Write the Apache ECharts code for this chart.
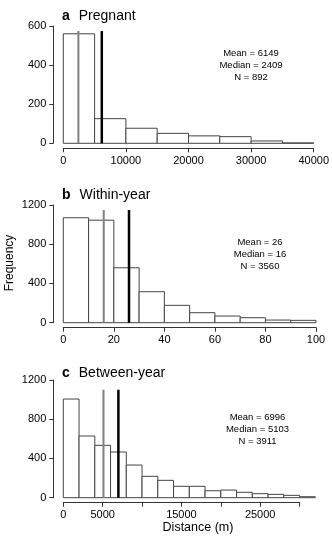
<!DOCTYPE html>
<html>
<head>
<meta charset="utf-8">
<script src="https://cdn.jsdelivr.net/npm/echarts@6/dist/echarts.min.js"></script>
<style>
html, body { margin: 0; padding: 0; background: #fff; }
#main { width: 332px; height: 545px; }
</style>
</head>
<body>
<div id="main"></div>
<script>
// bin edges and counts
var edgesA = [0, 5000, 10000, 15000, 20000, 25000, 30000, 35000, 40000];
var countsA = [560, 126, 77, 51, 38, 34, 12, 2];
var edgesB = [0, 10, 20, 30, 40, 50, 60, 70, 80, 90, 100];
var countsB = [1070, 1045, 560, 316, 177, 102, 68, 51, 27, 24];
var edgesC = [0, 2000, 4000, 6000, 8000, 10000, 12000, 14000, 16000, 18000, 20000, 22000, 24000, 26000, 28000, 30000, 32000];
var countsC = [1006, 629, 534, 466, 333, 218, 177, 116, 116, 71, 78, 55, 41, 34, 24, 10];

var titles = ['Pregnant', 'Within-year', 'Between-year'];
var letters = ['a', 'b', 'c'];
var means = [6149, 26, 6996];
var medians = [2409, 16, 5103];
var ns = [892, 3560, 3911];
var lineTops = [575, 1150, 1100];  // height the mean/median lines reach
var labelsC = [0, 5000, 15000, 25000];  // labels shown on panel c's axis

var FONT = "'Liberation Sans', Arial, Helvetica, sans-serif";

function bins(edges, counts) {
	var out = [];
	for (var i = 0; i < counts.length; i++) out.push([edges[i], edges[i + 1], counts[i]]);
	return out;
}

function renderBin(params, api) {
	var p0 = api.coord([api.value(0), api.value(2)]);
	var p1 = api.coord([api.value(1), 0]);
	return {
		type: 'rect',
		shape: { x: p0[0], y: p0[1], width: p1[0] - p0[0], height: p1[1] - p0[1] },
		style: { fill: '#fff', stroke: '#444', lineWidth: 1 }
	};
}

var labelStyle = {
	color: '#000', fontSize: 11, fontFamily: FONT, margin: 7,
	formatter: function (v) { return String(v); }
};
var axisCommon = {
	axisLine: { show: true, onZero: false, lineStyle: { color: '#333', width: 1 } },
	axisTick: { show: true, length: 4, lineStyle: { color: '#333' } },
	axisLabel: labelStyle,
	splitLine: { show: false }
};

function xAx(grid, min, max, interval, extra) {
	return Object.assign({
		type: 'value', gridIndex: grid, min: min, max: max, interval: interval,
		position: 'bottom', offset: 5
	}, axisCommon, extra || {});
}
function yAx(grid, max, interval, extra) {
	return Object.assign({
		type: 'value', gridIndex: grid, min: 0, max: max, interval: interval,
		position: 'left', offset: 10
	}, axisCommon, extra || {});
}

var hidden = { show: false };

var series = [];
[[edgesA, countsA], [edgesB, countsB], [edgesC, countsC]].forEach(function (d, i) {
	series.push({
		type: 'custom', xAxisIndex: i, yAxisIndex: i,
		renderItem: renderBin, encode: { x: [0, 1], y: 2 },
		data: bins(d[0], d[1]), silent: true
	});
	series.push({
		type: 'line', xAxisIndex: i, yAxisIndex: i, symbol: 'none', silent: true,
		lineStyle: { color: '#808080', width: 2 },
		data: [[medians[i], 0], [medians[i], lineTops[i]]]
	});
	series.push({
		type: 'line', xAxisIndex: i, yAxisIndex: i, symbol: 'none', silent: true,
		lineStyle: { color: '#000', width: 2.5 },
		data: [[means[i], 0], [means[i], lineTops[i]]]
	});
});

var titleTops = [3, 182, 360];
var statPos = [[251, 53], [260, 242], [257.5, 417]];
var graphics = [];
statPos.forEach(function (p, i) {
	graphics.push({
		type: 'text', x: p[0], y: p[1] - 6,
		style: {
			text: 'Mean = ' + means[i] + '\nMedian = ' + medians[i] + '\nN = ' + ns[i],
			font: '9.5px ' + FONT, fill: '#000', textAlign: 'center', lineHeight: 12
		}
	});
});
graphics.push({
	type: 'text', x: 9.5, y: 263, rotation: Math.PI / 2,
	style: { text: 'Frequency', font: '12px ' + FONT, fill: '#000', textAlign: 'center', textVerticalAlign: 'middle' }
});
graphics.push({
	type: 'text', x: 198, y: 528,
	style: { text: 'Distance (m)', font: '12.5px ' + FONT, fill: '#000', textAlign: 'center', textVerticalAlign: 'middle' }
});

var option = {
	backgroundColor: '#fff',
	animation: false,
	title: letters.map(function (l, i) {
		return {
			text: '{l|' + l + '}' + titles[i], left: 57, top: titleTops[i],
			textStyle: {
				fontSize: 14, fontWeight: 'normal', color: '#000', fontFamily: FONT, lineHeight: 16,
				rich: { l: { fontSize: 14, fontWeight: 'bold', fontFamily: FONT, padding: [0, 9, 0, 0] } }
			}
		};
	}),
	grid: [
		{ left: 63.3, top: 26, width: 252.7, height: 117.3 },
		{ left: 63.3, top: 205, width: 252.7, height: 117.7 },
		{ left: 63.3, top: 380, width: 252, height: 117.7 },
		// grid only for panel c's visible x axis (stops at 30000)
		{ left: 63.3, top: 380, width: 252 * 30000 / 32000, height: 117.7 }
	],
	xAxis: [
		xAx(0, 0, 40000, 10000),
		xAx(1, 0, 100, 20),
		xAx(2, 0, 32000, 2000, hidden),
		xAx(3, 0, 30000, 5000, {
			axisLabel: Object.assign({}, labelStyle, {
				formatter: function (v) { return labelsC.indexOf(v) >= 0 ? String(v) : ''; }
			})
		})
	],
	yAxis: [
		yAx(0, 600, 200),
		yAx(1, 1200, 400),
		yAx(2, 1200, 400),
		yAx(3, 1200, 400, hidden)
	],
	series: series,
	graphic: graphics
};

var myChart = echarts.init(document.getElementById('main'));
myChart.setOption(option);
</script>
</body>
</html>
